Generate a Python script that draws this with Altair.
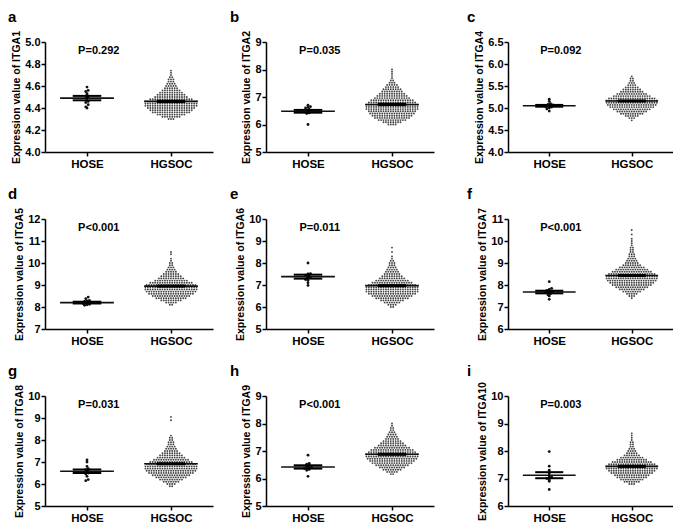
import altair as alt
import pandas as pd

LETTERS = ["a", "b", "c", "d", "e", "f", "g", "h", "i"]
GENES = ["ITGA1", "ITGA2", "ITGA4", "ITGA5", "ITGA6", "ITGA7", "ITGA8", "ITGA9", "ITGA10"]
P_TEXT = ["P=0.292", "P=0.035", "P=0.092", "P<0.001", "P=0.011", "P<0.001", "P=0.031", "P<0.001", "P=0.003"]
GROUPS = ["HOSE", "HGSOC"]
Y_MIN = [4.0, 5, 4.0, 7, 5, 6, 5, 5, 6]
Y_MAX = [5.0, 9, 6.5, 12, 10, 11, 10, 9, 10]
Y_TICKS = [
    [4.0, 4.2, 4.4, 4.6, 4.8, 5.0],
    [5, 6, 7, 8, 9],
    [4.0, 4.5, 5.0, 5.5, 6.0, 6.5],
    [7, 8, 9, 10, 11, 12],
    [5, 6, 7, 8, 9, 10],
    [6, 7, 8, 9, 10, 11],
    [5, 6, 7, 8, 9, 10],
    [5, 6, 7, 8, 9],
    [6, 7, 8, 9, 10],
]
Y_FORMAT = [".1f", "d", ".1f", "d", "d", "d", "d", "d", "d"]
ROW_STEP = [0.02, 0.08, 0.05, 0.1, 0.1, 0.1, 0.1, 0.08, 0.08]

# HOSE samples (individual points)
HOSE_VALUES = [
    [4.59, 4.56, 4.55, 4.53, 4.52, 4.50, 4.49, 4.46, 4.45, 4.43, 4.41, 4.40],
    [6.00, 6.40, 6.42, 6.45, 6.48, 6.50, 6.52, 6.55, 6.60, 6.62, 6.65, 6.70],
    [4.93, 4.98, 5.00, 5.02, 5.03, 5.05, 5.06, 5.07, 5.08, 5.10, 5.15, 5.20],
    [8.08, 8.10, 8.12, 8.15, 8.18, 8.20, 8.22, 8.25, 8.28, 8.30, 8.38, 8.45],
    [6.98, 7.10, 7.20, 7.25, 7.30, 7.35, 7.38, 7.40, 7.45, 7.50, 7.52, 8.00],
    [7.35, 7.50, 7.55, 7.60, 7.65, 7.68, 7.70, 7.72, 7.75, 7.80, 7.85, 8.15],
    [6.15, 6.20, 6.35, 6.45, 6.50, 6.55, 6.60, 6.65, 6.70, 6.80, 7.00, 7.10],
    [6.08, 6.30, 6.33, 6.36, 6.38, 6.40, 6.42, 6.45, 6.48, 6.52, 6.55, 6.85],
    [6.60, 6.90, 6.95, 7.00, 7.02, 7.05, 7.10, 7.20, 7.30, 7.45, 7.98],
]

# HGSOC samples: value of each swarm row and number of points in that row
HGSOC_ROW_VALUES = [
    [4.30, 4.32, 4.34, 4.36, 4.38, 4.40, 4.42, 4.44, 4.46, 4.48, 4.50, 4.52, 4.54, 4.56, 4.58, 4.60, 4.62, 4.64, 4.66, 4.68, 4.70, 4.72, 4.74],
    [6.00, 6.08, 6.16, 6.24, 6.32, 6.40, 6.48, 6.56, 6.64, 6.72, 6.80, 6.88, 6.96, 7.04, 7.12, 7.20, 7.28, 7.36, 7.44, 7.52, 7.60, 7.68, 7.76, 7.84, 7.92, 8.00],
    [4.72, 4.77, 4.82, 4.87, 4.92, 4.97, 5.02, 5.07, 5.12, 5.17, 5.22, 5.27, 5.32, 5.37, 5.42, 5.47, 5.52, 5.57, 5.62, 5.67, 5.72],
    [8.1, 8.2, 8.3, 8.4, 8.5, 8.6, 8.7, 8.8, 8.9, 9.0, 9.1, 9.2, 9.3, 9.4, 9.5, 9.6, 9.7, 9.8, 9.9, 10.0, 10.1, 10.2, 10.4, 10.5],
    [6.0, 6.1, 6.2, 6.3, 6.4, 6.5, 6.6, 6.7, 6.8, 6.9, 7.0, 7.1, 7.2, 7.3, 7.4, 7.5, 7.6, 7.7, 7.8, 7.9, 8.0, 8.1, 8.2, 8.3, 8.5, 8.7],
    [7.4, 7.5, 7.6, 7.7, 7.8, 7.9, 8.0, 8.1, 8.2, 8.3, 8.4, 8.5, 8.6, 8.7, 8.8, 8.9, 9.0, 9.1, 9.2, 9.3, 9.4, 9.5, 9.6, 9.7, 9.8, 9.9, 10.0, 10.1, 10.3, 10.5],
    [5.9, 6.0, 6.1, 6.2, 6.3, 6.4, 6.5, 6.6, 6.7, 6.8, 6.9, 7.0, 7.1, 7.2, 7.3, 7.4, 7.5, 7.6, 7.7, 7.8, 7.9, 8.0, 8.1, 8.2, 8.9, 9.05],
    [6.16, 6.24, 6.32, 6.40, 6.48, 6.56, 6.64, 6.72, 6.80, 6.88, 6.96, 7.04, 7.12, 7.20, 7.28, 7.36, 7.44, 7.52, 7.60, 7.68, 7.76, 7.84, 7.92, 8.00],
    [6.80, 6.88, 6.96, 7.04, 7.12, 7.20, 7.28, 7.36, 7.44, 7.52, 7.60, 7.68, 7.76, 7.84, 7.92, 8.00, 8.08, 8.16, 8.24, 8.32, 8.40, 8.48, 8.56, 8.64],
]
HGSOC_ROW_COUNTS = [
    [3, 8, 12, 16, 18, 20, 22, 22, 22, 18, 14, 12, 10, 8, 6, 5, 4, 3, 3, 2, 1, 1, 1],
    [4, 8, 12, 15, 17, 19, 20, 22, 22, 22, 20, 18, 15, 13, 11, 9, 8, 6, 5, 3, 2, 1, 1, 1, 1, 1],
    [1, 3, 6, 10, 13, 16, 19, 21, 22, 22, 20, 16, 13, 10, 8, 6, 4, 3, 2, 2, 1],
    [2, 5, 9, 13, 16, 19, 21, 22, 22, 21, 18, 14, 11, 9, 7, 5, 4, 3, 2, 2, 1, 1, 1, 1],
    [2, 4, 7, 10, 14, 17, 20, 22, 22, 22, 20, 17, 14, 11, 9, 7, 6, 5, 4, 3, 3, 2, 1, 1, 1, 1],
    [1, 3, 5, 8, 11, 14, 17, 19, 21, 22, 22, 20, 17, 14, 11, 8, 6, 5, 4, 3, 3, 2, 2, 2, 1, 1, 1, 1, 1, 1],
    [2, 4, 7, 10, 13, 16, 19, 21, 22, 22, 21, 18, 15, 12, 10, 8, 6, 5, 4, 3, 3, 2, 2, 1, 1, 1],
    [2, 5, 8, 11, 14, 17, 19, 21, 22, 22, 20, 18, 15, 12, 10, 8, 6, 5, 4, 3, 2, 2, 1, 1],
    [3, 7, 10, 13, 15, 18, 20, 22, 22, 20, 17, 13, 10, 7, 5, 4, 3, 2, 2, 2, 1, 1, 1, 1],
]

# Mean and SEM per group
MEAN_HOSE = [4.49, 6.48, 5.05, 8.20, 7.38, 7.68, 6.58, 6.42, 7.12]
SEM_HOSE = [0.02, 0.05, 0.02, 0.04, 0.09, 0.06, 0.08, 0.06, 0.11]
MEAN_HGSOC = [4.46, 6.73, 5.16, 8.95, 6.97, 8.43, 6.92, 6.88, 7.44]
SEM_HGSOC = [0.006, 0.025, 0.012, 0.025, 0.025, 0.025, 0.025, 0.02, 0.02]

# layout constants
GROUP_X = {"HOSE": 0.25, "HGSOC": 0.75}
DX = 0.0145
FONT = "Liberation Sans"
WIDTHS = [168, 168, 165]
LETTER_DX = [-37, -36, -41]
HEIGHT = 110

pt_rows = []
st_rows = []
for i in range(9):
    for v in HOSE_VALUES[i]:
        pt_rows.append({"panel": i, "group": "HOSE", "value": v})
    for v, c in zip(HGSOC_ROW_VALUES[i], HGSOC_ROW_COUNTS[i]):
        for _ in range(c):
            pt_rows.append({"panel": i, "group": "HGSOC", "value": v})
    st_rows.append({"panel": i, "group": "HOSE", "mean": MEAN_HOSE[i], "sem": SEM_HOSE[i]})
    st_rows.append({"panel": i, "group": "HGSOC", "mean": MEAN_HGSOC[i], "sem": SEM_HGSOC[i]})
points_df = pd.DataFrame(pt_rows)
stats_df = pd.DataFrame(st_rows)

GX_EXPR = f"datum.group == 'HOSE' ? {GROUP_X['HOSE']} : {GROUP_X['HGSOC']}"


def panel(i):
    xscale = alt.Scale(domain=[0, 1], nice=False, zero=False)
    xaxis = alt.Axis(
        values=[GROUP_X["HOSE"], GROUP_X["HGSOC"]],
        labelExpr="datum.value < 0.5 ? 'HOSE' : 'HGSOC'",
        title=None, labelFontSize=11.5, labelPadding=2, tickSize=4,
    )
    yscale = alt.Scale(domain=[Y_MIN[i], Y_MAX[i]], nice=False, zero=False)
    yaxis = alt.Axis(values=Y_TICKS[i], format=Y_FORMAT[i],
                     title=f"Expression value of {GENES[i]}", tickSize=4,
                     labelPadding=1, titlePadding=3)

    def X(f):
        return alt.X(f, scale=xscale, axis=xaxis)

    def Y(f):
        return alt.Y(f, scale=yscale, axis=yaxis)

    pts = (
        alt.Chart(points_df[points_df.panel == i])
        .transform_calculate(gx=GX_EXPR, row=f"round(datum.value / {ROW_STEP[i]})")
        .transform_window(rank="row_number()", groupby=["group", "row"],
                          sort=[alt.SortField("value")])
        .transform_joinaggregate(n="count()", groupby=["group", "row"])
        .transform_calculate(xpos=f"datum.gx + (datum.rank - (datum.n + 1) / 2) * {DX}")
        .mark_circle(opacity=1)
        .encode(
            x=X("xpos:Q"), y=Y("value:Q"),
            size=alt.condition("datum.group == 'HOSE'", alt.value(8), alt.value(3.5)),
            color=alt.condition("datum.group == 'HOSE'", alt.value("#111111"), alt.value("#444444")),
        )
    )
    st = alt.Chart(stats_df[stats_df.panel == i]).transform_calculate(
        gx=GX_EXPR,
        lo="datum.mean - datum.sem",
        hi="datum.mean + datum.sem",
        ml="datum.gx - 0.16",
        mr="datum.gx + 0.16",
        sl="datum.gx - 0.085",
        sr="datum.gx + 0.085",
    )
    mean_rule = st.mark_rule(color="#111111", strokeWidth=1.6).encode(
        x=X("ml:Q"), x2="mr:Q", y=Y("mean:Q"))
    sem_hi = st.mark_rule(color="#000000", strokeWidth=2).encode(
        x=X("sl:Q"), x2="sr:Q", y=Y("hi:Q"))
    sem_lo = st.mark_rule(color="#000000", strokeWidth=2).encode(
        x=X("sl:Q"), x2="sr:Q", y=Y("lo:Q"))
    sem_v = st.mark_rule(color="#000000", strokeWidth=1.6).encode(
        x=X("gx:Q"), y=Y("lo:Q"), y2="hi:Q")
    ptxt = (
        alt.Chart(pd.DataFrame({"label": [P_TEXT[i]]}))
        .mark_text(font=FONT, fontSize=11, fontWeight="bold", baseline="middle",
                   align="center", color="black")
        .encode(x=alt.datum(0.32), y=alt.value(9), text="label:N")
    )
    letter = (
        alt.Chart(pd.DataFrame({"label": [LETTERS[i]]}))
        .mark_text(font=FONT, fontSize=15, fontWeight="bold", baseline="alphabetic",
                   align="left", color="black")
        .encode(x=alt.value(LETTER_DX[i % 3]), y=alt.value(-20), text="label:N")
    )
    return alt.layer(pts, mean_rule, sem_hi, sem_lo, sem_v, ptxt, letter).properties(
        width=WIDTHS[i % 3], height=HEIGHT,
    )


rows = []
for r in range(3):
    left = alt.hconcat(panel(r * 3), panel(r * 3 + 1), spacing=17)
    rows.append(alt.hconcat(left, panel(r * 3 + 2), spacing=33))

chart = (
    alt.vconcat(*rows, spacing=17)
    .properties(padding={"left": 0, "top": 2, "right": 0, "bottom": 0})
    .configure_view(stroke=None)
    .configure_axis(
        labelFont=FONT, titleFont=FONT, labelFontSize=11, titleFontSize=10.5,
        labelFontWeight="bold", titleFontWeight="bold", labelColor="black",
        titleColor="black", domainColor="black", tickColor="black",
        domainWidth=1.5, tickWidth=1.5, grid=False,
    )
)

chart.save("out.html", embed_options={"renderer": "svg", "actions": False})
